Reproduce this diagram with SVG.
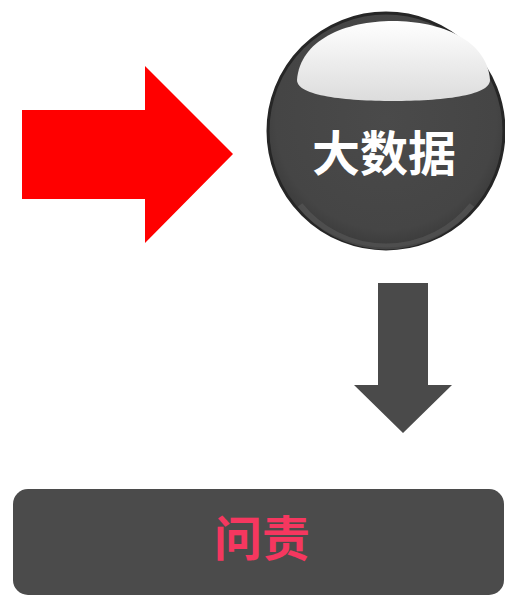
<svg xmlns="http://www.w3.org/2000/svg" width="505" height="595" viewBox="0 0 505 595">
<defs>
<linearGradient id="hl" x1="0" y1="0" x2="0" y2="1">
<stop offset="0" stop-color="#ffffff"/>
<stop offset="1" stop-color="#dcdcdc"/>
</linearGradient>
<radialGradient id="ball" cx="0.5" cy="0.45" r="0.55">
<stop offset="0" stop-color="#4a4a4a"/>
<stop offset="0.85" stop-color="#454545"/>
<stop offset="1" stop-color="#3a3a3a"/>
</radialGradient>
<style>
.cjk{font-family:"Noto Sans CJK SC","Noto Sans CJK JP",sans-serif;font-weight:bold;text-anchor:middle;dominant-baseline:central;font-size:48px;}
</style>
</defs>
<rect width="505" height="595" fill="#ffffff"/>
<g id="connectors">
<polygon id="arrow-red" points="22,110 145,110 145,66 233,154 145,243 145,199 22,199" fill="#ff0000"/>
<polygon id="arrow-down" points="378,283 428,283 428,385 452,385 403,433 354,385 378,385" fill="#4a4a4a"/>
</g>
<g id="node-bigdata">
<circle cx="386" cy="131" r="118" fill="url(#ball)" stroke="#262626" stroke-width="3"/>
<path d="M300,205 A110,110 0 0 0 472,205" fill="none" stroke="#5a5a5a" stroke-width="6" opacity="0.6"/>
<path d="M297,80 C300,40 345,21 393,21 C441,21 487,40 490,80 C490,96 440,101 393,101 C346,101 297,96 297,80 Z" fill="url(#hl)"/>
<text class="cjk" x="384" y="150" fill="#ffffff">大数据</text>
</g>
<g id="node-accountability">
<rect x="13" y="489" width="491" height="106" rx="15" fill="#4b4b4b"/>
<text class="cjk" x="262" y="535" fill="#f5375f">问责</text>
</g>
</svg>
